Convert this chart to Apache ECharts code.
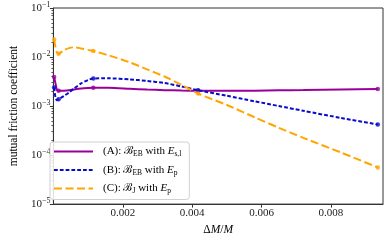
<!DOCTYPE html>
<html><head><meta charset="utf-8">
<script src="https://cdn.jsdelivr.net/npm/echarts@6/dist/echarts.min.js"></script>
<style>html,body{margin:0;padding:0;background:#fff}#c{width:390px;height:241px}</style>
</head><body><div id="c"></div>
<script>
// ---- data ----
const xValues = [0.00002, 0.00006, 0.0001, 0.00015, 0.0003, 0.00045, 0.0006, 0.0008, 0.001, 0.00115,
  0.0016, 0.0022, 0.0027, 0.0032, 0.0037, 0.00417, 0.005, 0.0058, 0.0065, 0.0072, 0.0083, 0.00935];
const seriesA = [3.9e-3, 2.9e-3, 2.15e-3, 2.05e-3, 2.06e-3, 2.1e-3, 2.18e-3, 2.28e-3, 2.34e-3, 2.37e-3,
  2.35e-3, 2.25e-3, 2.17e-3, 2.11e-3, 2.07e-3, 2.05e-3, 2.04e-3, 2.06e-3, 2.09e-3, 2.12e-3, 2.18e-3, 2.24e-3];
const seriesB = [2.4e-3, 1.5e-3, 1.32e-3, 1.38e-3, 1.6e-3, 1.9e-3, 2.3e-3, 2.9e-3, 3.4e-3, 3.65e-3,
  3.68e-3, 3.5e-3, 3.25e-3, 2.95e-3, 2.5e-3, 2.1e-3, 1.62e-3, 1.25e-3, 1.0e-3, 8.0e-4, 5.7e-4, 4.2e-4];
const seriesC = [2.27e-2, 1.6e-2, 1.25e-2, 1.17e-2, 1.38e-2, 1.52e-2, 1.58e-2, 1.5e-2, 1.4e-2, 1.33e-2,
  1.08e-2, 7.8e-3, 5.6e-3, 4.0e-3, 2.7e-3, 1.8e-3, 1.05e-3, 5.9e-4, 3.6e-4, 2.25e-4, 1.12e-4, 5.6e-5];
const markerIdx = [0, 3, 9, 15, 21];
const seriesNames = ['A', 'B', 'C'];
const legendLabels = {
  A: '(A): {s|ℬ}{sub|EB} with {i|E}{sub|s,l}',
  B: '(B): {s|ℬ}{sub|EB} with {i|E}{sub|p}',
  C: '(C): {s|ℬ}{sub|J} with {i|E}{sub|p}'
};
const xTickValues = [0.002, 0.004, 0.006, 0.008];
const xTickLabels = ['0.002', '0.004', '0.006', '0.008'];
const yTickExponents = [-5, -4, -3, -2, -1];

// ---- chart ----
const FONT = "'Liberation Serif','DejaVu Serif',serif";
const colors = ['#990099', '#0a0acd', '#ffa500'];
const dashes = ['solid', [3.8, 2], [8, 3.5]];
const allY = [seriesA, seriesB, seriesC];

const minorTicks = [];
for (let e = -5; e < -1; e++) for (let m = 2; m <= 9; m++) minorTicks.push(m * Math.pow(10, e));

const chart = echarts.init(document.getElementById('c'), null, {renderer: 'canvas'});
const richBase = {
  s: {fontFamily: FONT, fontSize: 11, lineHeight: 14, color: '#000'},
  i: {fontFamily: FONT, fontSize: 11, fontStyle: 'italic', lineHeight: 14, color: '#000'},
  sub: {fontFamily: FONT, fontSize: 7.5, lineHeight: 8, verticalAlign: 'bottom', color: '#000'}
};

const series = [];
seriesNames.forEach((n, k) => {
  series.push({
    name: n, type: 'line',
    data: xValues.map((x, i) => [x, allY[k][i]]),
    smooth: 0.25, symbol: 'none', showSymbol: false,
    lineStyle: {color: colors[k], width: 2, type: dashes[k]},
    itemStyle: {color: colors[k]},
    z: 3 + k
  });
  series.push({
    name: n + '_m', type: 'scatter',
    data: markerIdx.map(i => [xValues[i], allY[k][i]]),
    symbol: 'circle', symbolSize: 4.5,
    itemStyle: {color: colors[k]},
    z: 3 + k
  });
});

chart.setOption({
  animation: false,
  backgroundColor: '#fff',
  grid: {left: 43, right: 7, top: 8, bottom: 34, show: true, borderColor: '#333', borderWidth: 1},
  legend: {
    data: seriesNames.map(n => ({name: n, itemStyle: {opacity: 0}})),
    orient: 'vertical', left: 50, top: 142,
    itemWidth: 39, itemHeight: 12, itemGap: 6,
    padding: [4, 8, 4, 3],
    backgroundColor: 'rgba(255,255,255,0.85)',
    borderColor: '#d0d0d0', borderWidth: 1, borderRadius: 3,
    itemStyle: {opacity: 0},
    formatter: n => legendLabels[n],
    textStyle: {fontFamily: FONT, fontSize: 11, color: '#000', padding: [0, 0, 0, 5], rich: richBase}
  },
  xAxis: {
    type: 'value', min: 0, max: 0.0095,
    name: '{u|Δ}{i|M}{u|/}{i|M}', nameLocation: 'middle', nameGap: 18,
    nameTextStyle: {rich: {
      u: {fontFamily: FONT, fontSize: 11.5, color: '#000'},
      i: {fontFamily: FONT, fontSize: 11.5, fontStyle: 'italic', color: '#000'}
    }},
    axisLine: {show: true, onZero: false, lineStyle: {color: '#333', width: 1}},
    axisTick: {show: true, length: 3.5, inside: false, customValues: xTickValues, lineStyle: {color: '#333'}},
    axisLabel: {customValues: xTickValues, fontFamily: FONT, fontSize: 11, color: '#222', margin: 4,
      formatter: v => xTickLabels[xTickValues.findIndex(t => Math.abs(t - v) < 1e-9)] || ''},
    splitLine: {show: false}
  },
  yAxis: [{
    type: 'log', logBase: 10, min: 1e-5, max: 1e-1,
    name: 'mutual friction coefficient', nameLocation: 'middle', nameGap: 31,
    nameTextStyle: {fontFamily: FONT, fontSize: 11.5, color: '#000'},
    axisLine: {show: true, lineStyle: {color: '#333', width: 1}},
    axisTick: {show: true, length: 3.5, lineStyle: {color: '#333'}},
    axisLabel: {
      margin: 3, color: '#222',
      formatter: v => {
        const e = Math.round(Math.log10(v));
        return yTickExponents.includes(e) ? '{b|10}{sup|−' + Math.abs(e) + '}' : '';
      },
      rich: {
        b: {fontFamily: FONT, fontSize: 11, lineHeight: 14, color: '#222'},
        sup: {fontFamily: FONT, fontSize: 8, lineHeight: 8, verticalAlign: 'top', color: '#222'}
      }
    },
    splitLine: {show: false}
  }, {
    type: 'log', logBase: 10, min: 1e-5, max: 1e-1, position: 'left',
    axisLine: {show: false},
    axisTick: {show: true, length: 2, customValues: minorTicks, lineStyle: {color: '#333', width: 0.8}},
    axisLabel: {show: false},
    splitLine: {show: false}
  }],
  series: series
});
</script></body></html>
